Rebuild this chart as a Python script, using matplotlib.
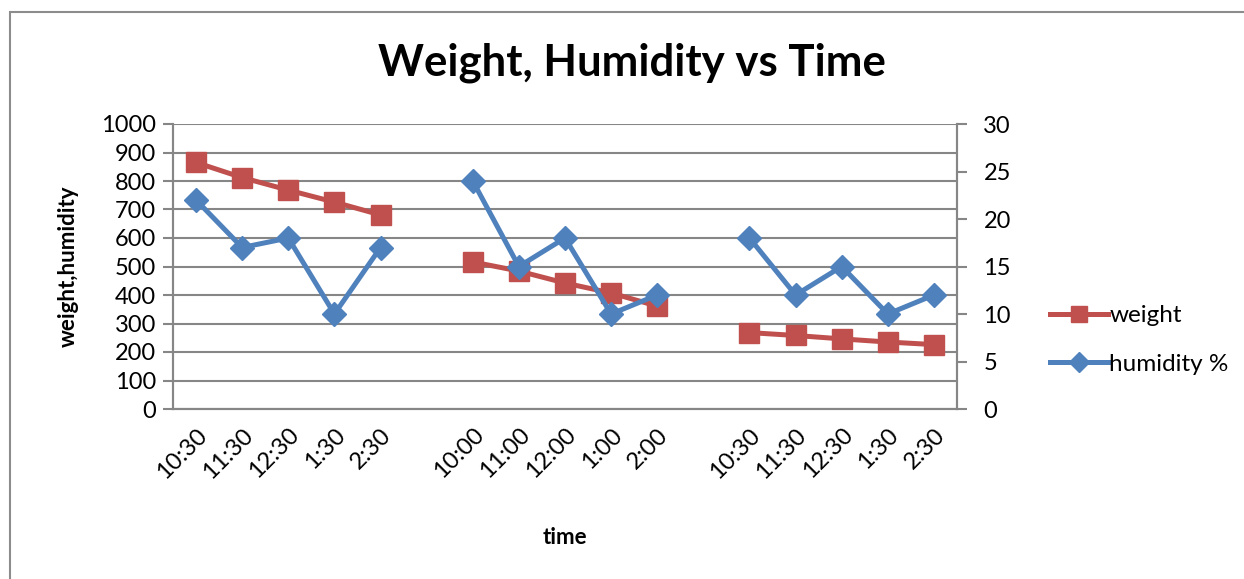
import matplotlib.pyplot as plt
import numpy as np
from matplotlib.patches import Rectangle

plt.rcParams['font.family'] = ['Lato', 'DejaVu Sans']

# three measuring sessions, separated by an empty slot on the axis
times_1 = ['10:30', '11:30', '12:30', '1:30', '2:30']
times_2 = ['10:00', '11:00', '12:00', '1:00', '2:00']
times_3 = ['10:30', '11:30', '12:30', '1:30', '2:30']

weight_1 = [865, 812, 768, 726, 681]
weight_2 = [516, 484, 442, 407, 361]
weight_3 = [268, 258, 246, 235, 226]

humidity_1 = [22, 17, 18, 10, 17]
humidity_2 = [24, 15, 18, 10, 12]
humidity_3 = [18, 12, 15, 10, 12]

labels = times_1 + [''] + times_2 + [''] + times_3
weight = weight_1 + [np.nan] + weight_2 + [np.nan] + weight_3
humidity = humidity_1 + [np.nan] + humidity_2 + [np.nan] + humidity_3
x = np.arange(len(labels))

red = '#C0504D'
blue = '#4F81BD'
grey = '#868686'

fig = plt.figure(figsize=(12.44, 5.79), dpi=100)
fig.patches.append(Rectangle((10 / 1244, -0.1), 1.2, 1.1 - 12 / 579,
                             transform=fig.transFigure, fill=False,
                             edgecolor='#8c8c8c', linewidth=1.5))

ax = fig.add_axes([173 / 1244, 1 - 409 / 579, 784 / 1244, 285 / 579])
ax2 = ax.twinx()

ax.plot(x, weight, color=red, lw=3.6, marker='s', ms=14, label='weight', zorder=3)
ax2.plot(x, humidity, color=blue, lw=3.6, marker='D', ms=12, label='humidity %', zorder=3)

ax.set_xlim(-0.5, len(labels) - 0.5)
ax.set_ylim(0, 1000)
ax.set_yticks(range(0, 1001, 100))
ax2.set_ylim(0, 30)
ax2.set_yticks(range(0, 31, 5))

ax.yaxis.grid(True, color=grey, lw=1.5)
ax.set_axisbelow(True)

ax.set_xticks(x)
ax.set_xticklabels(labels, rotation=45, ha='right', rotation_mode='anchor', fontsize=17)
ax.tick_params(axis='x', length=0, pad=11)
ax.tick_params(axis='y', labelsize=17, length=7, width=1.5, color=grey, pad=5)
ax2.tick_params(axis='y', labelsize=17, length=7, width=1.5, color=grey, pad=12)

for a in (ax, ax2):
    a.spines['top'].set_visible(False)
    for side in ('left', 'right', 'bottom'):
        a.spines[side].set_color(grey)
        a.spines[side].set_linewidth(1.5)

ax.set_ylabel('weight,humidity', fontsize=16, fontweight='bold', labelpad=16)
ax.set_xlabel('time', fontsize=16, fontweight='bold', labelpad=32)

fig.text(632 / 1244, 1 - 63 / 579, 'Weight, Humidity vs Time', fontsize=31.5,
         fontweight='bold', ha='center', va='center')

h1, l1 = ax.get_legend_handles_labels()
h2, l2 = ax2.get_legend_handles_labels()
fig.legend(h1 + h2, l1 + l2, loc='center left', bbox_to_anchor=(1028 / 1244, 1 - 340 / 579),
           frameon=False, fontsize=17.5, handlelength=2.4, handletextpad=0.05, labelspacing=1.15,
           markerscale=0.85)

fig.savefig('out.png', dpi=100)
